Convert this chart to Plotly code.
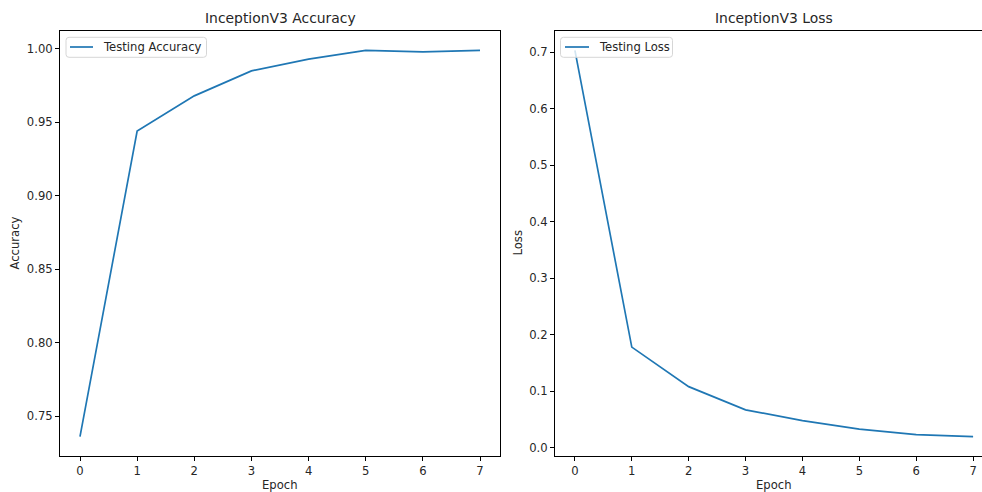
import plotly.graph_objects as go

epochs = [0, 1, 2, 3, 4, 5, 6, 7]
test_accuracy = [0.736, 0.944, 0.968, 0.985, 0.993, 0.999, 0.998, 0.999]
test_loss = [0.703, 0.178, 0.108, 0.067, 0.048, 0.033, 0.023, 0.0195]
acc_ticks = [0.75, 0.80, 0.85, 0.90, 0.95, 1.00]
loss_ticks = [0.0, 0.1, 0.2, 0.3, 0.4, 0.5, 0.6, 0.7]
series_names = ["Testing Accuracy", "Testing Loss"]
titles = ["InceptionV3 Accuracy", "InceptionV3 Loss"]
y_labels = ["Accuracy", "Loss"]
x_label = "Epoch"

W, H = 982, 492
FONT = "DejaVu Sans"
TXT = "#262626"
BLUE = "#1f77b4"
FS = 11.6
FT = 13.9

def px(x):
    return x / W

def py(y):
    return (H - y) / H

ax_top, ax_bot = 31, 456
l1, r1 = 60, 500
l2, r2, r2full = 555, 982, 993

fig = go.Figure()
fig.add_trace(go.Scatter(x=epochs, y=test_accuracy, mode="lines", name=series_names[0],
                         line=dict(color=BLUE, width=1.7), xaxis="x", yaxis="y"))
fig.add_trace(go.Scatter(x=epochs, y=test_loss, mode="lines", name=series_names[1],
                         line=dict(color=BLUE, width=1.7), xaxis="x2", yaxis="y2"))

common_axis = dict(showgrid=False, zeroline=False, showline=True, linecolor="#000", linewidth=1,
                   ticks="outside", ticklen=4, tickwidth=1, tickcolor="#000",
                   tickfont=dict(family=FONT, size=FS, color=TXT))

def pad_range(vals):
    lo, hi = min(vals), max(vals)
    m = (hi - lo) * 0.05
    return [lo - m, hi + m]

xr1 = pad_range(epochs)
# right subplot is cut by the image edge
xr2 = [xr1[0], xr1[0] + (r2 - l2) / ((r2full - l2) / (xr1[1] - xr1[0]))]

fig.update_layout(
    width=W, height=H, margin=dict(l=0, r=0, t=0, b=0),
    paper_bgcolor="white", plot_bgcolor="white", showlegend=False,
    xaxis=dict(domain=[px(l1), px(r1)], range=xr1, tickvals=epochs, mirror=True, anchor="y", **common_axis),
    yaxis=dict(domain=[py(ax_bot), py(ax_top)], range=pad_range(test_accuracy), tickvals=acc_ticks,
               tickformat=".2f", mirror=True, anchor="x", **common_axis),
    xaxis2=dict(domain=[px(l2), 1.0], range=xr2, tickvals=epochs, mirror=True, anchor="y2", **common_axis),
    yaxis2=dict(domain=[py(ax_bot), py(ax_top)], range=pad_range(test_loss), tickvals=loss_ticks,
                tickformat=".1f", mirror=False, anchor="x2", **common_axis),
)

ann = [
    dict(text=titles[0], x=px((l1 + r1) / 2), y=py(18), font=dict(size=FT)),
    dict(text=titles[1], x=px((l2 + r2full) / 2), y=py(18), font=dict(size=FT)),
    dict(text=x_label, x=px((l1 + r1) / 2), y=py(485), font=dict(size=FS)),
    dict(text=x_label, x=px((l2 + r2full) / 2), y=py(485), font=dict(size=FS)),
    dict(text=y_labels[0], x=px(15), y=py((ax_top + ax_bot) / 2), textangle=-90, font=dict(size=FS)),
    dict(text=y_labels[1], x=px(518), y=py((ax_top + ax_bot) / 2), textangle=-90, font=dict(size=FS)),
]
for a in ann:
    a["font"].update(family=FONT, color=TXT)
    fig.add_annotation(xref="paper", yref="paper", xanchor="center", yanchor="middle",
                       showarrow=False, **a)

# legends (matplotlib-style boxes in the upper-left corner of each axes)
def rounded_rect(x0, y0, x1, y1, r=3):
    X0, X1 = px(x0), px(x1)
    Y0, Y1 = py(y0), py(y1)
    rx, ry = r / W, r / H
    return (f"M{X0+rx},{Y0} L{X1-rx},{Y0} Q{X1},{Y0} {X1},{Y0-ry} L{X1},{Y1+ry} Q{X1},{Y1} {X1-rx},{Y1} "
            f"L{X0+rx},{Y1} Q{X0},{Y1} {X0},{Y1+ry} L{X0},{Y0-ry} Q{X0},{Y0} {X0+rx},{Y0} Z")

legend_specs = [
    (series_names[0], 66, 206.5, 70, 93, 101),
    (series_names[1], 560.5, 672.5, 565, 589, 597),
]
for name, bx0, bx1, lx0, lx1, tx in legend_specs:
    fig.add_shape(type="path", xref="paper", yref="paper", path=rounded_rect(bx0, 37.3, bx1, 57.3),
                  line=dict(color="#d6d6d6", width=1), fillcolor="rgba(255,255,255,0.8)", layer="above")
    fig.add_shape(type="line", xref="paper", yref="paper", x0=px(lx0), x1=px(lx1), y0=py(47), y1=py(47),
                  line=dict(color=BLUE, width=1.7), layer="above")
    fig.add_annotation(xref="paper", yref="paper", x=px(tx), y=py(47), xanchor="left", yanchor="middle",
                       showarrow=False, text=name, font=dict(family=FONT, size=FS, color=TXT))

fig.write_html("out.html")
